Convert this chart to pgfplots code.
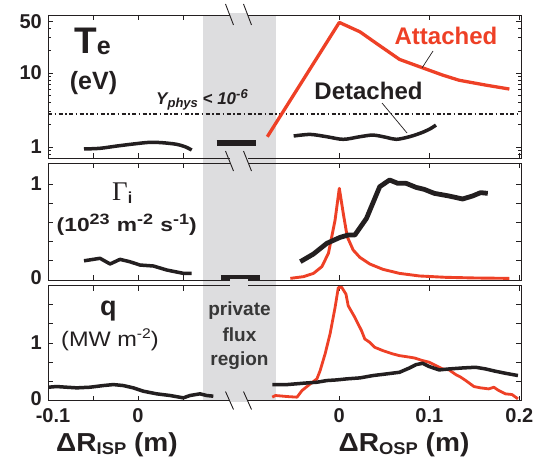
\documentclass[border=0pt]{standalone}
\usepackage{fontspec}
\setmainfont{Liberation Sans}
\newfontfamily\gammafont{Liberation Serif}
\usepackage{graphicx}
\usepackage{pgfplots}
\usepackage{pgfplotstable}
\pgfplotsset{compat=1.18}

\definecolor{redc}{RGB}{238,64,38}
\definecolor{txt}{RGB}{35,31,32}
\definecolor{graybg}{RGB}{221,221,223}
\definecolor{pfr}{RGB}{55,55,55}
\newcommand{\fs}[1]{\fontsize{#1}{#1}\selectfont}
\newcommand{\osp}{0.2237} % shift of OSP coordinates on the broken axis

% OSP data (x in m from outer strike point)
\pgfplotstableread{
x y
-0.080 1.377
0.000 48.4
0.023 36.1
0.0412 25.2
0.0669 15.3
0.089 12.2
0.1147 9.4
0.133 8.0
0.1625 6.88
0.189 6.08
}\teAtt
\pgfplotstableread{
x y
-0.0507 1.408
-0.0323 1.48
-0.0139 1.377
0.0044 1.27
0.0228 1.377
0.0375 1.45
0.0522 1.35
0.0633 1.27
0.078 1.377
0.0926 1.58
0.1019 1.79
0.1074 1.98
}\teDet
\pgfplotstableread{
x y
-0.0544 0.017
-0.0397 0.035
-0.0287 0.069
-0.0194 0.139
-0.0121 0.278
-0.0047 0.625
0.0 0.955
0.0044 0.694
0.0088 0.451
0.0154 0.3125
0.0228 0.236
0.0338 0.167
0.0485 0.111
0.0669 0.069
0.089 0.042
0.118 0.028
0.151 0.021
0.189 0.017
}\gaAtt
\pgfplotstableread{
x y
-0.0433 0.191
-0.0287 0.271
-0.0139 0.382
0.0008 0.444
0.0099 0.469
0.0173 0.469
0.0302 0.642
0.0449 0.972
0.0559 1.042
0.065 1.007
0.0743 1.007
0.0853 0.965
0.0945 0.944
0.1055 0.903
0.122 0.875
0.137 0.844
0.148 0.875
0.157 0.91
0.165 0.903
}\gaDet
\pgfplotstableread{
x y
-0.0745 0.058
-0.0709 0.087
-0.058 0.069
-0.047 0.058
-0.0415 0.173
-0.0323 0.289
-0.0249 0.376
-0.0213 0.52
-0.0158 0.81
-0.0103 1.156
-0.0047 1.618
-0.0011 1.965
0.0026 1.97
0.0074 1.85
0.0099 1.647
0.0173 1.445
0.0247 1.214
0.0283 1.07
0.0338 1.012
0.0394 0.925
0.0485 0.867
0.054 0.838
0.0595 0.81
0.0669 0.78
0.0743 0.763
0.0835 0.74
0.0926 0.694
0.1 0.665
0.1074 0.607
0.1147 0.549
0.122 0.532
0.1294 0.451
0.135 0.405
0.1405 0.347
0.1496 0.243
0.157 0.22
0.1661 0.202
0.1717 0.231
0.1772 0.173
0.1845 0.116
0.1919 0.104
0.1985 0.029
}\qAtt
\pgfplotstableread{
x y
-0.0745 0.277
-0.058 0.277
-0.0397 0.301
-0.0249 0.318
-0.0139 0.347
-0.0029 0.358
0.0081 0.376
0.0228 0.393
0.0375 0.434
0.0522 0.462
0.0669 0.491
0.078 0.566
0.0853 0.624
0.0926 0.647
0.1 0.59
0.111 0.532
0.122 0.549
0.137 0.566
0.1515 0.578
0.1625 0.549
0.1735 0.509
0.1845 0.474
0.1985 0.434
}\qDet

\pgfplotsset{
  panel/.style={
    scale only axis, width=473pt, anchor=north west,
    xmin=-0.1, xmax=0.4256,
    xtick={-0.1,-0.05,0,0.05,0.2237,0.3237,0.4237},
    tick align=inside, xtick pos=both, ytick pos=both,
    xticklabel pos=lower, yticklabel pos=left,
    major tick length=5pt, minor tick length=3pt,
    axis line style={line width=0.9pt, color=txt},
    every tick/.style={line width=0.9pt, color=txt},
    ticklabel style={font=\fs{20}\bfseries, text=txt},
    yticklabel style={anchor=east, inner sep=0pt, xshift=-6pt},
    clip=false,
  },
  blk/.style={color=txt, line width=3.5pt, line join=round},
  rd/.style={color=redc, line width=3pt, line join=round},
}

\begin{document}
\begin{tikzpicture}

% private flux region shading
\begin{scope}[x=1pt, y=-1pt]
  \fill[graybg] (203,15) rectangle (276,400.5);
\end{scope}

% ---- panel 1: Te
\begin{axis}[panel, at={(48pt,-15pt)}, height=143pt, xticklabels={,,,,,,},
  ymode=log, ymin=0.71, ymax=61,
  ytick={1,10,50}, yticklabels={1,10,50},
  minor ytick={0.8,0.9,2,3,4,5,6,7,8,9,20,30,40}]
  \addplot[color=txt, line width=2pt, dash pattern=on 4pt off 2.5pt on 1.5pt off 2.5pt]
    coordinates {(-0.1,2.8) (0.4256,2.8)};
  \addplot[blk, smooth] coordinates {
    (-0.06,0.94) (-0.0422,0.96) (-0.0237,1.03) (-0.0052,1.098) (0.0133,1.157)
    (0.0281,1.14) (0.043,1.087) (0.0522,1.01) (0.0597,0.911)};
  \addplot[color=txt, line width=6.5pt] coordinates {(0.0874,1.14) (0.1311,1.14)};
  \addplot[rd, line width=3.3pt] table[x expr=\thisrow{x}+\osp, y=y] {\teAtt};
  \addplot[blk, smooth] table[x expr=\thisrow{x}+\osp, y=y] {\teDet};
\end{axis}

% ---- panel 2: ion flux
\begin{axis}[panel, at={(48pt,-163pt)}, height=117pt, xticklabels={,,,,,,},
  ymin=0, ymax=1.219,
  ytick={0,0.2,0.4,0.6,0.8,1}, yticklabels={\raisebox{5pt}{0},,,,,1}]
  \addplot[blk] coordinates {
    (-0.06,0.20) (-0.0422,0.226) (-0.031,0.167) (-0.02,0.215) (-0.0089,0.19)
    (0.0022,0.156) (0.017,0.146) (0.032,0.104) (0.050,0.07) (0.0597,0.07)};
  \addplot[color=txt, line width=5pt] coordinates {(0.0922,0.031) (0.1356,0.031)};
  \addplot[rd, line width=2.9pt] table[x expr=\thisrow{x}+\osp, y=y] {\gaAtt};
  \addplot[blk, line width=4.8pt] table[x expr=\thisrow{x}+\osp, y=y] {\gaDet};
\end{axis}

% ---- panel 3: heat flux
\begin{axis}[panel, at={(48pt,-285.5pt)}, height=115pt,
  ymin=0, ymax=2,
  ytick={0,0.3333,0.6667,1,1.3333,1.6667}, yticklabels={\raisebox{4pt}{0},,,1,,},
  xticklabels={\hspace{10pt}-0.1,,0,,0,0.1,0.2},
  xticklabel style={anchor=north, inner sep=0pt, yshift=-8pt}]
  \addplot[blk] coordinates {
    (-0.0996,0.231) (-0.0904,0.243) (-0.0793,0.231) (-0.068,0.22) (-0.0533,0.231)
    (-0.0385,0.26) (-0.0274,0.277) (-0.0163,0.26) (-0.0052,0.22) (0.0059,0.162)
    (0.0207,0.116) (0.0356,0.087) (0.0504,0.046) (0.0578,0.087) (0.0689,0.116)
    (0.0763,0.087) (0.0837,0.075)};
  \addplot[rd, line width=2.8pt] table[x expr=\thisrow{x}+\osp, y=y] {\qAtt};
  \addplot[blk] table[x expr=\thisrow{x}+\osp, y=y] {\qDet};
\end{axis}

\begin{scope}[x=1pt, y=-1pt, every node/.style={inner sep=0pt, text=txt}]
  % axis breaks
  \fill[graybg] (229.5,13.5) rectangle (247.5,16.5);
  \fill[graybg] (229.5,156.5) rectangle (247.5,164.5);
  \fill[graybg] (229.5,278.5) rectangle (247.5,287);
  \fill[graybg] (229.5,399) rectangle (247.5,402);
  \foreach \bx in {229.5,247.5}{
    \draw[txt, line width=0.9pt] (\bx-4,4) -- (\bx+4,25);
    \draw[txt, line width=0.9pt] (\bx-4,151) -- (\bx+4,171);
    \draw[txt, line width=0.9pt] (\bx-4,391.5) -- (\bx+4,409.5);
  }
  % panel 1 text
  \node[anchor=base west] at (74,53.3) {\fs{37}\bfseries T\raisebox{-1.7pt}{\fs{25}e}};
  \node[anchor=base] at (93.5,90) {\fs{25}\bfseries (eV)};
  \node[anchor=base] at (202,105)
    {\fs{17}\bfseries\itshape Y\raisebox{-3pt}{\fs{13}phys} < 10\raisebox{6pt}{\fs{13}-6}};
  \node[anchor=base, text=redc] at (446,45) {\fs{24}\bfseries Attached};
  \node[anchor=base] at (368.5,100) {\fs{24}\bfseries Detached};
  \draw[txt, line width=0.7pt] (433,51) -- (422,68);
  \draw[txt, line width=0.7pt] (382,103) -- (407,133);
  % panel 2 text
  \node[anchor=base west] at (112,200) {{\gammafont\fs{27}Γ}\raisebox{-3pt}{\fs{16}\bfseries i}};
  \node[anchor=base] at (126.7,231.7) {\scalebox{1.2}[1]{\fs{19}\bfseries
    (10\raisebox{7pt}{\fs{15}23}\hspace{6pt}m\raisebox{7pt}{\fs{15}-2}\hspace{6pt}s\raisebox{7pt}{\fs{15}-1})}};
  % panel 3 text
  \node[anchor=base west] at (100,315) {\fs{27}\bfseries q};
  \node[anchor=base] at (110,346.7) {\scalebox{1.12}[1]{\fs{21}(MW m\raisebox{8pt}{\fs{14}-2})}};
  \node[anchor=base, text=pfr] at (239.5,315) {\fs{19}\bfseries private};
  \node[anchor=base, text=pfr] at (239.5,341.7) {\fs{19}\bfseries flux};
  \node[anchor=base, text=pfr] at (239.5,365) {\fs{19}\bfseries region};
  % x labels
  \node[anchor=base] at (117,451) {\scalebox{1.08}[1]{\fs{26}\bfseries ΔR\raisebox{-3pt}{\fs{17}ISP} (m)}};
  \node[anchor=base] at (404,451) {\scalebox{1.08}[1]{\fs{26}\bfseries ΔR\raisebox{-3pt}{\fs{17}OSP} (m)}};
\end{scope}

\pgfresetboundingbox
\path[use as bounding box] (0pt,0pt) rectangle (537pt,-457pt);
\end{tikzpicture}
\end{document}
